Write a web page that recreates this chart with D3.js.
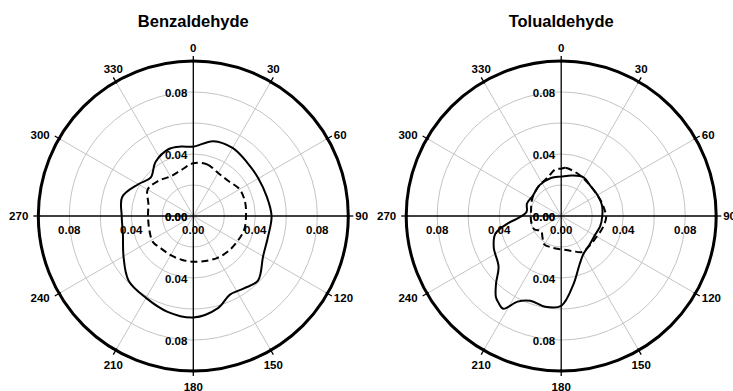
<!DOCTYPE html>
<html>
<head>
<meta charset="utf-8">
<script src="https://cdn.jsdelivr.net/npm/d3@7"></script>
<style>
  body { margin: 0; background: #fff; }
  text { font-family: "Liberation Sans", Arial, sans-serif; font-weight: bold; fill: #000; }
</style>
</head>
<body>
<svg id="chart" width="733" height="391"></svg>
<script>
// Polar plots of two aldehydes: solid and dashed traces per panel.
const panelTitles = ["Benzaldehyde", "Tolualdehyde"];
const angleTicks = [0, 30, 60, 90, 120, 150, 180, 210, 240, 270, 300, 330];
const gridRings = [0.02, 0.04, 0.06, 0.08];
const axisLabelValues = [0, 0.04, 0.08];
const radialMax = 0.10;

// Benzaldehyde, solid trace
const benzSolidAngles = [0, 15, 30, 45, 60, 75, 90, 105, 120, 135, 145, 155, 165, 180, 195, 210, 225, 240, 255, 270, 285, 300, 312, 325, 340, 350];
const benzSolidValues = [0.0447, 0.0500, 0.0507, 0.0490, 0.0485, 0.0490, 0.0505, 0.0500, 0.0520, 0.0590, 0.0570, 0.0560, 0.0615, 0.0655, 0.0640, 0.0610, 0.0590, 0.0520, 0.0470, 0.0462, 0.0475, 0.0410, 0.0370, 0.0425, 0.0460, 0.0455];

// Benzaldehyde, dashed trace
const benzDashAngles = [0, 15, 30, 45, 60, 75, 90, 105, 120, 135, 150, 165, 180, 195, 210, 225, 237, 252, 270, 285, 300, 315, 330, 345];
const benzDashValues = [0.0340, 0.0345, 0.0320, 0.0320, 0.0345, 0.0346, 0.0340, 0.0340, 0.0328, 0.0320, 0.0312, 0.0300, 0.0295, 0.0292, 0.0292, 0.0295, 0.0310, 0.0298, 0.0292, 0.0300, 0.0340, 0.0320, 0.0295, 0.0306];

// Tolualdehyde, solid trace
const toluSolidAngles = [0, 15, 30, 45, 60, 75, 90, 105, 120, 135, 150, 160, 170, 180, 190, 200, 207, 212, 216, 219, 224, 231, 245, 255, 262, 268, 277, 290, 305, 325, 345];
const toluSolidValues = [0.0254, 0.0270, 0.0288, 0.0270, 0.0270, 0.0272, 0.0265, 0.0260, 0.0250, 0.0260, 0.0285, 0.0340, 0.0450, 0.0580, 0.0595, 0.0582, 0.0620, 0.0705, 0.0690, 0.0670, 0.0605, 0.0520, 0.0480, 0.0440, 0.0350, 0.0270, 0.0225, 0.0235, 0.0225, 0.0243, 0.0254];

// Tolualdehyde, dashed trace
const toluDashAngles = [0, 5, 20, 35, 53, 69, 81, 92, 106, 122, 137, 150, 162, 180, 197, 211, 221, 233, 244, 261, 279, 300, 320, 340, 353];
const toluDashValues = [0.0305, 0.0312, 0.0295, 0.0277, 0.0268, 0.0274, 0.0282, 0.0290, 0.0278, 0.0264, 0.0265, 0.0268, 0.0238, 0.0215, 0.0212, 0.0213, 0.0184, 0.0162, 0.0194, 0.0197, 0.0197, 0.0217, 0.0238, 0.0262, 0.0303];

const panels = [
  { title: panelTitles[0], cx: 193.3, series: [
      { angles: benzSolidAngles, values: benzSolidValues, dash: null },
      { angles: benzDashAngles, values: benzDashValues, dash: "7,4" } ] },
  { title: panelTitles[1], cx: 561.2, series: [
      { angles: toluSolidAngles, values: toluSolidValues, dash: null },
      { angles: toluDashAngles, values: toluDashValues, dash: "7,4" } ] }
];

const svg = d3.select("#chart");
const cy = 216;
const R = 155;
const rScale = d3.scaleLinear().domain([0, radialMax]).range([0, R]);
const aScale = d3.scaleLinear().domain([0, 360]).range([0, 2 * Math.PI]);
const fmt = d3.format(".2f");
const rad = d => d * Math.PI / 180;

panels.forEach(p => {
  const g = svg.append("g").attr("transform", `translate(${p.cx},${cy})`);

  svg.append("text")
    .attr("x", p.cx).attr("y", 27)
    .attr("text-anchor", "middle")
    .style("font-size", "16.5px")
    .text(p.title);

  // grey rings
  g.selectAll("circle.ring").data(gridRings).join("circle")
    .attr("class", "ring")
    .attr("r", d => rScale(d))
    .attr("fill", "none").attr("stroke", "#c4c4c4").attr("stroke-width", 1);

  // grey spokes (non-axis angles)
  g.selectAll("line.spoke").data(angleTicks.filter(a => a % 90 !== 0)).join("line")
    .attr("class", "spoke")
    .attr("x1", 0).attr("y1", 0)
    .attr("x2", a => R * Math.sin(rad(a)))
    .attr("y2", a => -R * Math.cos(rad(a)))
    .attr("stroke", "#c4c4c4").attr("stroke-width", 1);

  // black cross axes
  g.selectAll("line.axis").data([0, 90]).join("line")
    .attr("class", "axis")
    .attr("x1", a => -R * Math.sin(rad(a))).attr("y1", a => R * Math.cos(rad(a)))
    .attr("x2", a => R * Math.sin(rad(a))).attr("y2", a => -R * Math.cos(rad(a)))
    .attr("stroke", "#000").attr("stroke-width", 1.3);

  // outer ticks
  g.selectAll("line.tick").data(angleTicks).join("line")
    .attr("class", "tick")
    .attr("x1", a => (R - 2) * Math.sin(rad(a))).attr("y1", a => -(R - 2) * Math.cos(rad(a)))
    .attr("x2", a => (R + 5) * Math.sin(rad(a))).attr("y2", a => -(R + 5) * Math.cos(rad(a)))
    .attr("stroke", "#000").attr("stroke-width", 1.3);

  // outer frame
  g.append("circle").attr("r", rScale(radialMax))
    .attr("fill", "none").attr("stroke", "#000").attr("stroke-width", 3);

  // angle labels
  g.selectAll("text.ang").data(angleTicks).join("text")
    .attr("class", "ang")
    .style("font-size", "11.5px")
    .attr("dominant-baseline", "central")
    .each(function (a) {
      const s = Math.sin(rad(a)), c = Math.cos(rad(a));
      const px = (R + 5) * s, py = -(R + 5) * c;
      const t = d3.select(this);
      if (Math.abs(c) > 0.8) {
        t.attr("text-anchor", "middle").attr("x", px)
         .attr("y", c > 0 ? py - 8 : py + 10.5);
      } else if (s > 0) {
        t.attr("text-anchor", "start").attr("x", px + 2).attr("y", py + (c > 0.1 ? -1 : c < -0.1 ? 2 : 0));
      } else {
        t.attr("text-anchor", "end").attr("x", px - 5).attr("y", py + (c > 0.1 ? -1 : c < -0.1 ? 2 : 0));
      }
    })
    .text(a => a);

  // radial value labels along the vertical axis (up and down)
  const vLabels = axisLabelValues.map(v => ({ v, dir: -1 })).concat(axisLabelValues.map(v => ({ v, dir: 1 })));
  g.selectAll("text.vlab").data(vLabels).join("text")
    .attr("class", "vlab")
    .style("font-size", "11.5px")
    .attr("text-anchor", "end")
    .attr("dominant-baseline", "central")
    .attr("x", -6)
    .attr("y", d => d.dir * rScale(d.v) + 1)
    .text(d => fmt(d.v));

  // radial value labels along the horizontal axis (left and right)
  const hLabels = axisLabelValues.filter(v => v > 0).map(v => ({ v, dir: -1 }))
    .concat(axisLabelValues.map(v => ({ v, dir: 1 })));
  g.selectAll("text.hlab").data(hLabels).join("text")
    .attr("class", "hlab")
    .style("font-size", "11.5px")
    .attr("text-anchor", "middle")
    .attr("dominant-baseline", "central")
    .attr("x", d => d.dir * rScale(d.v))
    .attr("y", 13.5)
    .text(d => fmt(d.v));

  // traces
  const line = d3.lineRadial()
    .angle(d => aScale(d.a))
    .radius(d => rScale(d.v))
    .curve(d3.curveCatmullRomClosed.alpha(0.5));

  p.series.forEach(s => {
    const pts = s.angles.map((a, i) => ({ a, v: s.values[i] }));
    g.append("path")
      .attr("d", line(pts))
      .attr("fill", "none")
      .attr("stroke", "#000")
      .attr("stroke-width", 2)
      .attr("stroke-dasharray", s.dash);
  });
});
</script>
</body>
</html>
